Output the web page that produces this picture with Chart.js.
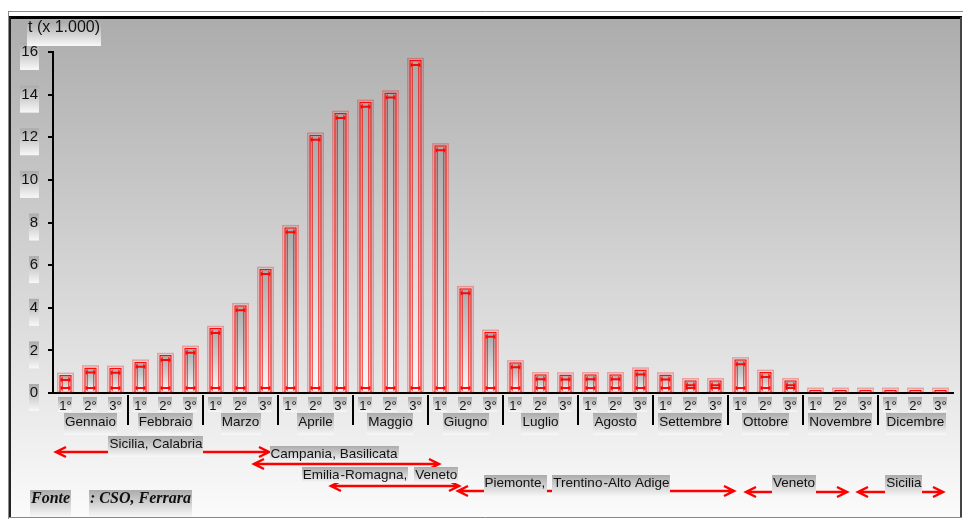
<!DOCTYPE html>
<html><head><meta charset="utf-8">
<script src="https://cdn.jsdelivr.net/npm/chart.js@4/dist/chart.umd.min.js"></script>
<style>html,body{margin:0;padding:0;background:#fff;overflow:hidden}#wrap{width:963px;height:519px;position:relative}canvas{display:block}</style>
</head><body><div id="wrap"><canvas id="c" width="963" height="519"></canvas></div>
<script>
// ---- data ----
const months = ['Gennaio','Febbraio','Marzo','Aprile','Maggio','Giugno','Luglio','Agosto','Settembre','Ottobre','Novembre','Dicembre'];
const decades = ['1°','2°','3°'];
const values = [0.85,1.2,1.18, 1.47,1.78,2.12, 3.05,4.12,5.82, 7.78,12.12,13.14, 13.66,14.1,15.62, 11.62,4.92,2.87, 1.44,0.88,0.87, 0.88,0.88,1.1, 0.87,0.6,0.6, 1.58,0.99,0.6, 0.15,0.15,0.15, 0.15,0.15,0.15];
const yTickValues = [0,2,4,6,8,10,12,14,16];
const yTitle = 't (x 1.000)';
// producing areas: label, period start / end (in decade index units), label position
const areaLabels = [['Sicilia, Calabria'],['Campania, Basilicata'],['Emilia','-Romagna,','Veneto'],['Piemonte,','Trentino','-Alto Adige'],['Veneto'],['Sicilia']];
const areaFrom = [-0.42, 7.5, 10.58, 15.66, 27.18, 31.66];
const areaTo = [8.18, 14.98, 15.78, 26.78, 31.3, 35.14];
const areaTextAt = [3.62, 10.74, 12.72, 20.6, 29.14, 33.54];
const sourceText = ['Fonte', ': CSO, Ferrara'];

// ---- build ----
const labels = [];
months.forEach(m => decades.forEach(d => labels.push(m + ' ' + d)));

const W = 963, H = 519;
const LEFT = 53, TOP = 52, RIGHT = 953, BOTTOM = 393;
const SANS = '"Liberation Sans", Arial, sans-serif';

function boxGrad(ctx, y0, y1) {
  const g = ctx.createLinearGradient(0, y0, 0, y1);
  g.addColorStop(0, '#ababab');
  g.addColorStop(1, '#f8f8f8');
  return g;
}
function labelBox(ctx, text, x, cy, opts) {
  opts = opts || {};
  ctx.font = opts.font || ('14px ' + SANS);
  const w = ctx.measureText(text).width;
  let left = opts.align === 'left' ? x : (opts.align === 'right' ? x - w : x - w / 2);
  const top = cy - (opts.up || 9), bot = cy + (opts.down || 14);
  ctx.fillStyle = boxGrad(ctx, top, bot);
  ctx.fillRect(Math.round(left - 1), top, Math.round(w + 2), bot - top);
  ctx.fillStyle = opts.color || '#111';
  ctx.textBaseline = 'middle';
  ctx.textAlign = 'left';
  ctx.fillText(text, left, cy);
  return w;
}
function barGrad(c) {
  const ch = c.chart;
  const s = ch.scales && ch.scales.y;
  if (!s || c.raw == null) return '#c8c8c8';
  const yt = s.getPixelForValue(c.raw), yb = s.getPixelForValue(0);
  if (!isFinite(yt) || !isFinite(yb) || yb - yt < 0.5) return '#c8c8c8';
  const g = ch.ctx.createLinearGradient(0, yt, 0, yb);
  g.addColorStop(0, '#a8a8a8');
  g.addColorStop(1, '#fafafa');
  return g;
}

const framePlugin = {
  id: 'frame',
  beforeDraw(chart) {
    const ctx = chart.ctx;
    ctx.save();
    ctx.fillStyle = '#fff';
    ctx.fillRect(0, 0, W, H);
    const g = ctx.createLinearGradient(0, 17, 0, 517);
    g.addColorStop(0, '#acacac');
    g.addColorStop(1, '#fbfbfb');
    ctx.fillStyle = g;
    ctx.fillRect(10, 17, 951, 501);
    ctx.strokeStyle = '#8a8a8a'; ctx.lineWidth = 1;
    ctx.beginPath(); ctx.moveTo(8, 11.5); ctx.lineTo(W, 11.5); ctx.moveTo(8.5, 11); ctx.lineTo(8.5, H); ctx.stroke();
    ctx.strokeStyle = '#000'; ctx.lineWidth = 3;
    ctx.beginPath(); ctx.moveTo(9, 17.5); ctx.lineTo(962, 17.5); ctx.stroke();
    ctx.strokeStyle = '#222'; ctx.lineWidth = 2;
    ctx.beginPath(); ctx.moveTo(10, 17); ctx.lineTo(10, 518); ctx.stroke();
    ctx.strokeStyle = '#444';
    ctx.beginPath(); ctx.moveTo(961, 17); ctx.lineTo(961, 518); ctx.stroke();
    ctx.strokeStyle = '#888'; ctx.lineWidth = 1;
    ctx.beginPath(); ctx.moveTo(9, 517.5); ctx.lineTo(962, 517.5); ctx.stroke();
    // y tick label boxes
    const ys = chart.scales.y;
    ctx.font = '15px ' + SANS;
    yTickValues.forEach(v => {
      const y = ys.getPixelForValue(v);
      const w = ctx.measureText(String(v)).width;
      ctx.fillStyle = boxGrad(ctx, y - 9, y + 18);
      ctx.fillRect(Math.round(38 - w - 1), y - 9, Math.round(w + 2), 27);
    });
    // axis title
    labelBox(ctx, yTitle, 28, 28, { align: 'left', up: 6, down: 18, font: '16px ' + SANS });
    ctx.restore();
  },
  afterDraw(chart) {
    const ctx = chart.ctx;
    const xs = chart.scales.x;
    const meta = chart.getDatasetMeta(0);
    ctx.save();
    // bar details
    meta.data.forEach(el => {
      const p = el.getProps(['x', 'y', 'base', 'width'], true);
      const l = p.x - p.width / 2, r = p.x + p.width / 2;
      const h = p.base - p.y;
      ctx.strokeStyle = 'rgba(255,0,0,0.3)'; ctx.lineWidth = 1.5;
      ctx.strokeRect(l - 1.5, p.y - 1.5, p.width + 3, h + 1.5);
      if (h > 8) {
        const il = l + 3, ir = r - 3;
        ctx.strokeStyle = 'rgba(255,0,0,0.85)'; ctx.lineWidth = 1;
        ctx.beginPath();
        ctx.moveTo(il, p.y + 2); ctx.lineTo(il, p.base - 1);
        ctx.moveTo(ir, p.y + 2); ctx.lineTo(ir, p.base - 1);
        ctx.stroke();
        ctx.strokeStyle = 'rgba(255,0,0,0.95)'; ctx.lineWidth = 2;
        ctx.beginPath();
        ctx.moveTo(il - 1.5, p.y + 5); ctx.lineTo(ir + 1.5, p.y + 5);
        ctx.moveTo(il - 1.5, p.base - 4); ctx.lineTo(ir + 1.5, p.base - 4);
        ctx.stroke();
        ctx.lineWidth = 1;
        ctx.beginPath();
        [il - 1, ir + 1].forEach(x => {
          ctx.moveTo(x, p.y + 3); ctx.lineTo(x, p.y + 7);
          ctx.moveTo(x, p.base - 6); ctx.lineTo(x, p.base - 2);
        });
        ctx.stroke();
      }
    });
    // decade labels
    labels.forEach((lab, i) => {
      const x = xs.getPixelForValue(i);
      labelBox(ctx, decades[i % 3], x, 406, { font: '13px ' + SANS, up: 9, down: 6 });
    });
    // month labels
    months.forEach((m, k) => {
      const x = xs.getPixelForValue(3 * k + 1);
      labelBox(ctx, m, x, 422, { font: '13.5px ' + SANS, up: 9, down: 13 });
    });
    // month separators
    ctx.strokeStyle = '#000'; ctx.lineWidth = 2;
    ctx.beginPath();
    for (let k = 1; k < months.length; k++) {
      const x = Math.round(xs.getPixelForValue(3 * k - 0.5)) + 0;
      ctx.moveTo(x, 395); ctx.lineTo(x, 425);
    }
    ctx.stroke();
    // producing-area arrows
    const arrowY = [452, 464, 486, 491, 492, 492];
    const textY = [444, 454, 475, 483, 483, 483];
    const boxDown = [13, 8, 8, 14, 13, 14];
    areaLabels.forEach((parts, i) => {
      const x1 = xs.getPixelForValue(areaFrom[i]);
      const x2 = xs.getPixelForValue(areaTo[i]);
      const y = arrowY[i];
      ctx.strokeStyle = '#ff0000'; ctx.lineWidth = 2.5;
      ctx.beginPath();
      ctx.moveTo(x1 + 1, y); ctx.lineTo(x2 - 1, y);
      ctx.moveTo(x1 + 11, y - 5); ctx.lineTo(x1 + 1, y); ctx.lineTo(x1 + 11, y + 5);
      ctx.moveTo(x2 - 11, y - 5); ctx.lineTo(x2 - 1, y); ctx.lineTo(x2 - 11, y + 5);
      ctx.stroke();
      // text parts
      const f = '13.5px ' + SANS;
      ctx.font = f;
      const gap = 8;
      const widths = parts.map(t => ctx.measureText(t).width);
      const total = widths.reduce((a, b) => a + b, 0) + gap * (parts.length - 1);
      let cx = xs.getPixelForValue(areaTextAt[i]) - total / 2;
      parts.forEach((t, j) => {
        const gp = (j > 0 && t.startsWith('-')) ? 1 : (j > 0 ? gap : 0);
        cx += gp;
        labelBox(ctx, t, cx, textY[i], { align: 'left', up: 8, down: boxDown[i], font: f });
        cx += widths[j];
      });
    });
    // source
    const sf = 'bold italic 16px "Liberation Serif", "Times New Roman", serif';
    labelBox(ctx, sourceText[0], 31, 499, { align: 'left', font: sf, up: 9, down: 18 });
    labelBox(ctx, sourceText[1], 90, 499, { align: 'left', font: sf, up: 9, down: 18 });
    ctx.restore();
  }
};

new Chart(document.getElementById('c'), {
  type: 'bar',
  data: {
    labels: labels,
    datasets: [{
      data: values,
      backgroundColor: barGrad,
      borderColor: 'rgba(255,0,0,0.95)',
      borderWidth: 1.5,
      barPercentage: 0.5,
      categoryPercentage: 1
    }]
  },
  options: {
    responsive: false,
    animation: false,
    devicePixelRatio: 1,
    layout: { padding: { top: TOP, right: W - RIGHT, left: 0, bottom: 0 } },
    plugins: { legend: { display: false }, tooltip: { enabled: false }, title: { display: false } },
    scales: {
      x: {
        offset: true,
        grid: { display: false, drawTicks: false },
        border: { display: true, color: '#000', width: 2 },
        ticks: { display: false },
        afterFit(s) { s.height = H - BOTTOM; }
      },
      y: {
        min: 0, max: 16,
        afterBuildTicks(s) { s.ticks = yTickValues.map(v => ({ value: v })); },
        ticks: { color: '#111', font: { family: SANS, size: 15 }, padding: 10 },
        grid: { drawOnChartArea: false, drawTicks: true, tickLength: 5, color: '#000', lineWidth: 2 },
        border: { display: true, color: '#000', width: 2 },
        afterFit(s) { s.width = LEFT; }
      }
    }
  },
  plugins: [framePlugin]
});
</script>
</body></html>
